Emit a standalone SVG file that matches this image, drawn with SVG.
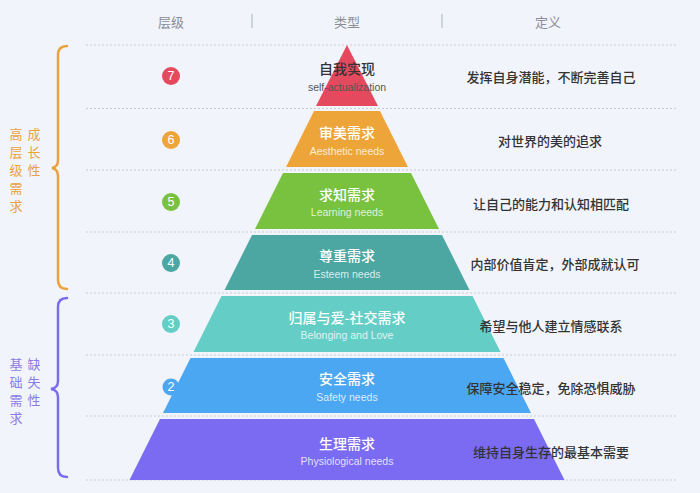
<svg xmlns="http://www.w3.org/2000/svg" width="700" height="493" viewBox="0 0 700 493">
<style>
text{font-family:"Noto Sans CJK SC","Liberation Sans",sans-serif;dominant-baseline:central;text-anchor:middle}
.hd{font-size:13px;fill:#8a8d96}
.sep{stroke:#b8bcc6;stroke-width:1.2}
.guide{stroke:#c6cad4;stroke-width:1;stroke-dasharray:2 2}
.cn{font-size:14px;font-weight:500;fill:#fff}
.en{font-family:"Liberation Sans",sans-serif;font-size:10.5px;fill:#fff;fill-opacity:.8}
.def{font-size:13px;font-weight:500;fill:#333}
.num{font-family:"Liberation Sans",sans-serif;font-size:12.5px;fill:#fff}
.side-o{font-size:13px;fill:#e9a23c}
.side-p{font-size:13px;fill:#8a7ce6}
.brace{fill:none;stroke-width:2.5;stroke-linecap:round}
</style>
<rect width="700" height="493" fill="#f2f4fb"/>
<g id="header">
<text class="hd" x="171" y="21">层级</text>
<line class="sep" x1="252" y1="14" x2="252" y2="28"/>
<text class="hd" x="347" y="21">类型</text>
<line class="sep" x1="442" y1="14" x2="442" y2="28"/>
<text class="hd" x="548" y="21">定义</text>
</g>
<g id="guides">
<line class="guide" x1="86" y1="45" x2="678" y2="45"/>
<line class="guide" x1="86" y1="108.5" x2="678" y2="108.5"/>
<line class="guide" x1="86" y1="170" x2="678" y2="170"/>
<line class="guide" x1="86" y1="232" x2="678" y2="232"/>
<line class="guide" x1="86" y1="293" x2="678" y2="293"/>
<line class="guide" x1="86" y1="355" x2="678" y2="355"/>
<line class="guide" x1="86" y1="416" x2="678" y2="416"/>
<line class="guide" x1="86" y1="480" x2="678" y2="480"/>
</g>
<g id="group-growth">
<path class="brace" stroke="#eba23a" d="M67,46 Q58,46 58,55 L58,160 Q58,167 52,168 Q58,169 58,176 L58,280 Q58,289 67,289"/>
<text class="side-o" x="16" y="133">高</text>
<text class="side-o" x="16" y="151">层</text>
<text class="side-o" x="16" y="169">级</text>
<text class="side-o" x="16" y="187">需</text>
<text class="side-o" x="16" y="205">求</text>
<text class="side-o" x="34" y="133">成</text>
<text class="side-o" x="34" y="151">长</text>
<text class="side-o" x="34" y="169">性</text>
</g>
<g id="group-deficit">
<path class="brace" stroke="#7a6cec" d="M67,298 Q58,298 58,307 L58,381 Q58,388 51,389 Q58,390 58,397 L58,468 Q58,477 67,477"/>
<text class="side-p" x="16" y="363">基</text>
<text class="side-p" x="16" y="381">础</text>
<text class="side-p" x="16" y="399">需</text>
<text class="side-p" x="16" y="417">求</text>
<text class="side-p" x="34" y="363">缺</text>
<text class="side-p" x="34" y="381">失</text>
<text class="side-p" x="34" y="399">性</text>
</g>
<g id="level-7">
<circle cx="171" cy="76" r="9" fill="#e5495d"/>
<text class="num" x="171" y="76">7</text>
<polygon points="347,45 378,106 316,106" fill="#e5495d"/>
<text class="cn" x="347" y="68" style="fill:#333">自我实现</text>
<text class="en" x="347" y="87" style="fill:#555;fill-opacity:1">self-actualization</text>
<text class="def" x="551" y="76">发挥自身潜能，不断完善自己</text>
</g>
<g id="level-6">
<circle cx="171" cy="140" r="9" fill="#eda53a"/>
<text class="num" x="171" y="140">6</text>
<polygon points="314,111 380,111 408,167 286,167" fill="#eda53a"/>
<text class="cn" x="347" y="132">审美需求</text>
<text class="en" x="347" y="151">Aesthetic needs</text>
<text class="def" x="550" y="140">对世界的美的追求</text>
</g>
<g id="level-5">
<circle cx="171" cy="202" r="9" fill="#78c23f"/>
<text class="num" x="171" y="202">5</text>
<polygon points="283,173 411,173 439,229 255,229" fill="#78c23f"/>
<text class="cn" x="347" y="194">求知需求</text>
<text class="en" x="347" y="212">Learning needs</text>
<text class="def" x="551" y="203">让自己的能力和认知相匹配</text>
</g>
<g id="level-4">
<circle cx="171" cy="263" r="9" fill="#4ca7a3"/>
<text class="num" x="171" y="263">4</text>
<polygon points="252,235 442,235 469.5,290 224.5,290" fill="#4ca7a3"/>
<text class="cn" x="347" y="255">尊重需求</text>
<text class="en" x="347" y="274">Esteem needs</text>
<text class="def" x="555" y="263">内部价值肯定，外部成就认可</text>
</g>
<g id="level-3">
<circle cx="171" cy="324" r="9" fill="#64cec6"/>
<text class="num" x="171" y="324">3</text>
<polygon points="221.5,296 472.5,296 500.5,352 193.5,352" fill="#64cec6"/>
<text class="cn" x="347" y="317">归属与爱-社交需求</text>
<text class="en" x="347" y="335">Belonging and Love</text>
<text class="def" x="551" y="325">希望与他人建立情感联系</text>
</g>
<g id="level-2">
<circle cx="171" cy="387" r="8.5" fill="#4ba7f2"/>
<text class="num" x="171" y="387">2</text>
<polygon points="190.5,358 503.5,358 531,413 163,413" fill="#4ba7f2"/>
<text class="cn" x="347" y="378">安全需求</text>
<text class="en" x="347" y="397">Safety needs</text>
<text class="def" x="551" y="387">保障安全稳定，免除恐惧威胁</text>
</g>
<g id="level-1">
<polygon points="160,419 534,419 564.5,480 129.5,480" fill="#7b6af2"/>
<text class="cn" x="347" y="443">生理需求</text>
<text class="en" x="347" y="461">Physiological needs</text>
<text class="def" x="551" y="451">维持自身生存的最基本需要</text>
</g>
</svg>
